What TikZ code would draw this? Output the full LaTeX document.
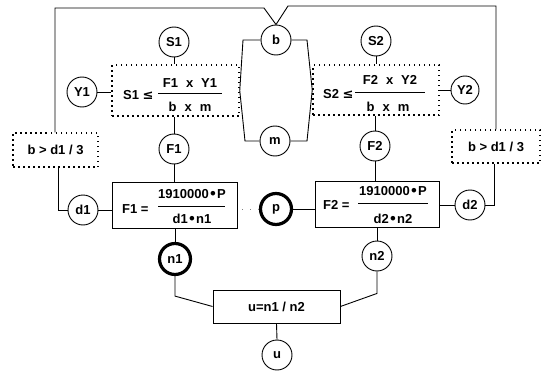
\documentclass[tikz,border=0pt]{standalone}
\usepackage{fontspec}
\setmainfont{Liberation Sans}
\newfontfamily\dv{DejaVu Sans}
\begin{document}
\begin{tikzpicture}[x=1pt,y=-1pt,
  every node/.style={font=\bfseries\fontsize{13}{15}\selectfont},
  circ/.style={circle,draw,line width=0.9pt,minimum size=30pt,inner sep=0pt},
  thickc/.style={circle,draw,line width=3.2pt,minimum size=31pt,inner sep=0pt},
  dotbox/.style={draw,line width=1.5pt,dash pattern=on 1.5pt off 3.5pt,inner sep=0pt},
  solbox/.style={draw,line width=0.9pt,inner sep=0pt},
  conn/.style={line width=0.9pt},
  faint/.style={line width=0.6pt,gray,dash pattern=on 1pt off 7pt},
  lbl/.style={anchor=base,inner sep=0pt}]
\useasboundingbox (0,0) rectangle (550,372);

% circles
\node[circ] (S1) at (174,42) {S1};
\node[circ] (b)  at (276,40) {b};
\node[circ] (S2) at (376,41) {S2};
\node[circ] (Y1) at (82,92) {Y1};
\node[circ,minimum size=28pt] (Y2) at (465,90) {Y2};
\node[circ] (m)  at (275,141) {m};
\node[circ] (F1) at (174,149) {F1};
\node[circ] (F2) at (375,146) {F2};
\node[circ] (d1) at (83,210) {d1};
\node[circ] (d2) at (470,205) {d2};
\node[thickc] (p) at (276,209) {p};
\node[thickc] (n1) at (175,259) {n1};
\node[circ] (n2) at (377,256) {n2};
\node[circ] (u)  at (277,355) {u};

% boxes
\node[dotbox,minimum width=127pt,minimum height=51pt] (c1) at (175.5,90.5) {};
\node[dotbox,minimum width=126pt,minimum height=50pt] (c2) at (376,90) {};
\node[dotbox,minimum width=85pt,minimum height=34pt] (lb) at (55.5,150) {b > d1 / 3};
\node[dotbox,minimum width=88pt,minimum height=33pt] (rb) at (496,146.5) {b > d1 / 3};
\node[solbox,minimum width=125pt,minimum height=46pt] (f1box) at (174.5,205) {};
\node[solbox,minimum width=124pt,minimum height=46pt] (f2box) at (377,204) {};
\node[solbox,minimum width=127pt,minimum height=33pt] (ubox) at (276.5,306.5) {u=n1 / n2};

% formula texts
\node[lbl,anchor=base west] at (123,99) {S1 {\dv ≤}};
\node[lbl] at (190,87) {F1\hspace{8pt}x\hspace{8pt}Y1};
\draw[conn] (158,93) -- (222,93);
\node[lbl] at (190,111) {b\hspace{8pt}x\hspace{8pt}m};

\node[lbl,anchor=base west] at (323,98) {S2 {\dv ≤}};
\node[lbl] at (390,84) {F2\hspace{8pt}x\hspace{8pt}Y2};
\draw[conn] (355,92) -- (425,92);
\node[lbl] at (388,111) {b\hspace{8pt}x\hspace{8pt}m};

\node[lbl,anchor=base west] at (122,213) {F1 =};
\node[lbl] at (192,198) {1910000{\dv •}P};
\draw[conn] (158,206) -- (225,206);
\node[lbl] at (192,223) {d1{\dv •}n1};

\node[lbl,anchor=base west] at (323,209) {F2 =};
\node[lbl] at (393,195) {1910000{\dv •}P};
\draw[conn] (358,203) -- (428,203);
\node[lbl] at (393,223) {d2{\dv •}n2};

% coordinates
\coordinate (tl) at (55,8);
\coordinate (tlb) at (264,8);
\coordinate (trb) at (288,6);
\coordinate (tr) at (496,6);
\coordinate (bl) at (243,40);
\coordinate (ml) at (245,141);
\coordinate (br) at (307,40);
\coordinate (mr) at (307,141);

% connectors
\draw[conn] (b.north) -- (tlb) -- (tl) -- (tl |- lb.north);
\draw[conn] (b.north) -- (trb) -- (tr) -- (tr |- rb.north);
\draw[conn] ([xshift=3pt]lb.south) |- (d1.west);
\draw[conn] ([xshift=-2pt]rb.south) |- (d2.east);
\draw[conn] (d1.east) -- (d1.east -| f1box.west);
\draw[conn] (d2.west) -- (d2.west -| f2box.east);
\draw[conn] (p.east) -- (p.east -| f2box.west);
\draw[faint] (p.west) -- (p.west -| f1box.east);
\draw[conn] (Y1.east) -- (Y1.east -| c1.west);
\draw[conn] (Y2.west) -- (Y2.west -| c2.east);
\draw[conn] (S1.south) -- (S1.south |- c1.north);
\draw[conn] (F1.north |- c1.south) -- (F1.north);
\draw[conn] (F1.south) -- (F1.south |- f1box.north);
\draw[conn] (n1.north |- f1box.south) -- (n1.north);
\draw[conn] (S2.south) -- (S2.south |- c2.north);
\draw[conn] (F2.north |- c2.south) -- (F2.north);
\draw[conn] (F2.south) -- (F2.south |- f2box.north);
\draw[conn] (n2.north |- f2box.south) -- (n2.north);
\draw[conn] (n1.south) -- ++(0,20) -- (ubox.west);
\draw[conn] (n2.south) -- ++(0,22) -- (ubox.east);
\draw[conn] (ubox.south) -- (u.north);
\draw[conn] (b.west) -- (bl) -- (c1.east) -- (ml) -- (m.west);
\draw[conn] (b.east) -- (br) -- (c2.west) -- (mr) -- (m.east);
\end{tikzpicture}
\end{document}
